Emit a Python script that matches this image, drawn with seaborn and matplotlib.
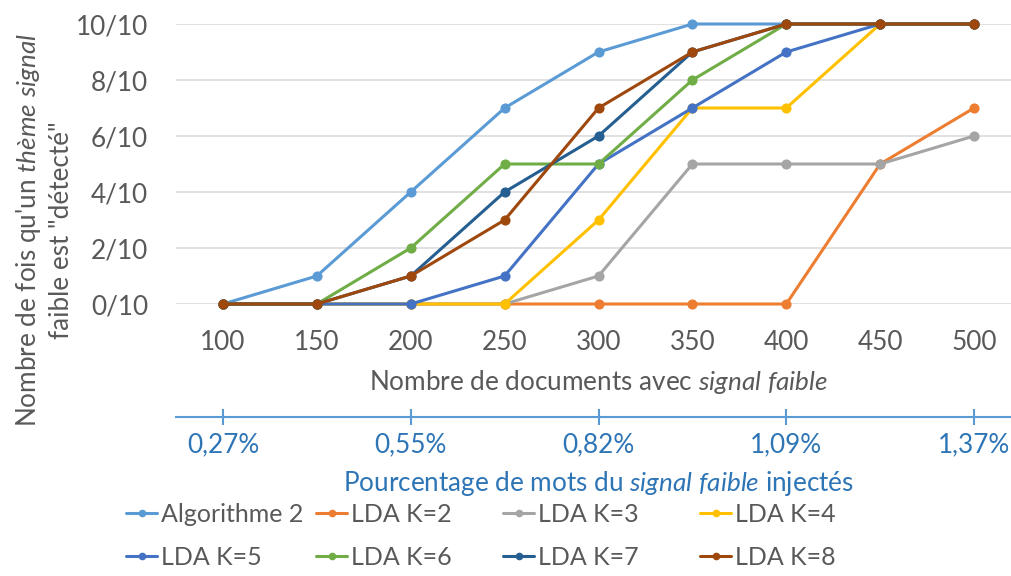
import numpy as np
import pandas as pd
import seaborn as sns
import matplotlib.pyplot as plt
from matplotlib.lines import Line2D

# données
docs = [100, 150, 200, 250, 300, 350, 400, 450, 500]
algo2 = [0, 1, 4, 7, 9, 10, 10, 10, 10]
lda_k2 = [0, 0, 0, 0, 0, 0, 0, 5, 7]
lda_k3 = [0, 0, 0, 0, 1, 5, 5, 5, 6]
lda_k4 = [0, 0, 0, 0, 3, 7, 7, 10, 10]
lda_k5 = [0, 0, 0, 1, 5, 7, 9, 10, 10]
lda_k6 = [0, 0, 2, 5, 5, 8, 10, 10, 10]
lda_k7 = [0, 0, 1, 4, 6, 9, 10, 10, 10]
lda_k8 = [0, 0, 1, 3, 7, 9, 10, 10, 10]

series_names = ["Algorithme 2", "LDA K=2", "LDA K=3", "LDA K=4",
                "LDA K=5", "LDA K=6", "LDA K=7", "LDA K=8"]
colors = ["#5B9BD5", "#ED7D31", "#A5A5A5", "#FFC000",
          "#4472C4", "#70AD47", "#255E91", "#9E480E"]

y_ticks = [0, 2, 4, 6, 8, 10]
y_tick_labels = ["0/10", "2/10", "4/10", "6/10", "8/10", "10/10"]
pct_docs = [100, 200, 300, 400, 500]
pct_labels = ["0,27%", "0,55%", "0,82%", "1,09%", "1,37%"]

all_series = [algo2, lda_k2, lda_k3, lda_k4, lda_k5, lda_k6, lda_k7, lda_k8]
df = pd.DataFrame({
    "docs": docs * len(all_series),
    "detect": [v for s in all_series for v in s],
    "series": [n for n in series_names for _ in docs],
})

sns.set_theme(style="white")
plt.rcParams["font.family"] = ["Lato", "DejaVu Sans"]
plt.rcParams["mathtext.fontset"] = "custom"
plt.rcParams["mathtext.rm"] = "Lato"
plt.rcParams["mathtext.it"] = "Lato:italic"

grey_txt = "#595959"
blue_txt = "#2E75B6"
fs = 18.8

fig = plt.figure(figsize=(10.12, 5.76), dpi=100)
ax = fig.add_axes([176 / 1012, 1 - 304 / 576, 845 / 1012, 280 / 576])

sns.lineplot(data=df, x="docs", y="detect", hue="series", hue_order=series_names,
             palette=colors, marker="o", markersize=7.3, markeredgewidth=0,
             linewidth=2.2, errorbar=None, legend=False, ax=ax, clip_on=False)

ax.set_xlim(75, 525)
ax.set_ylim(0, 10)
ax.set_xticks(docs)
ax.set_xticklabels([str(d) for d in docs])
ax.set_yticks(y_ticks)
ax.set_yticklabels(y_tick_labels)
ax.yaxis.grid(True, color="#D9D9D9", linewidth=1.1)
ax.set_axisbelow(True)
for sp in ax.spines.values():
    sp.set_visible(False)
ax.tick_params(axis="x", length=0, pad=19, labelsize=fs, labelcolor=grey_txt)
ax.tick_params(axis="y", length=0, pad=20, labelsize=fs, labelcolor=grey_txt)
ax.set_xlabel(r"Nombre de documents avec $\mathit{signal\ faible}$",
              fontsize=fs, color=grey_txt, labelpad=9)
ax.set_ylabel("")

# axe secondaire : pourcentage de mots injectés
sec = ax.secondary_xaxis(-0.404)
sec.set_xticks(pct_docs)
sec.set_xticklabels(pct_labels)
sec.spines["bottom"].set_color("#5B9BD5")
sec.spines["bottom"].set_linewidth(1.5)
sec.tick_params(axis="x", direction="inout", length=12, width=1.5, color="#5B9BD5",
                labelsize=fs, labelcolor=blue_txt, pad=5)
sec.set_xlabel(r"Pourcentage de mots du $\mathit{signal\ faible}$ injectés",
               fontsize=fs, color=blue_txt, labelpad=8)

fig.text(44 / 1012, 1 - 230 / 576,
         "Nombre de fois qu'un $\\mathit{thème\\ signal}$\nfaible est \"détecté\"",
         rotation=90, ha="center", va="center", multialignment="center",
         fontsize=fs, color=grey_txt, linespacing=1.3)

# légende : 4 colonnes placées à la main
handles = [Line2D([0], [0], color=c, lw=2.2, marker="o", markersize=5.5,
                  markeredgewidth=0) for c in colors]
col_x = [126, 316, 503, 700]
for i, x in enumerate(col_x):
    fig.legend(handles=[handles[i], handles[i + 4]],
               labels=[series_names[i], series_names[i + 4]],
               loc="upper left", bbox_to_anchor=(x / 1012, 1 - 503 / 576),
               frameon=False, fontsize=18, handlelength=1.25, handletextpad=0.15,
               borderpad=0, borderaxespad=0, labelspacing=0.8,
               labelcolor=grey_txt)

fig.savefig("out.png", dpi=100)
